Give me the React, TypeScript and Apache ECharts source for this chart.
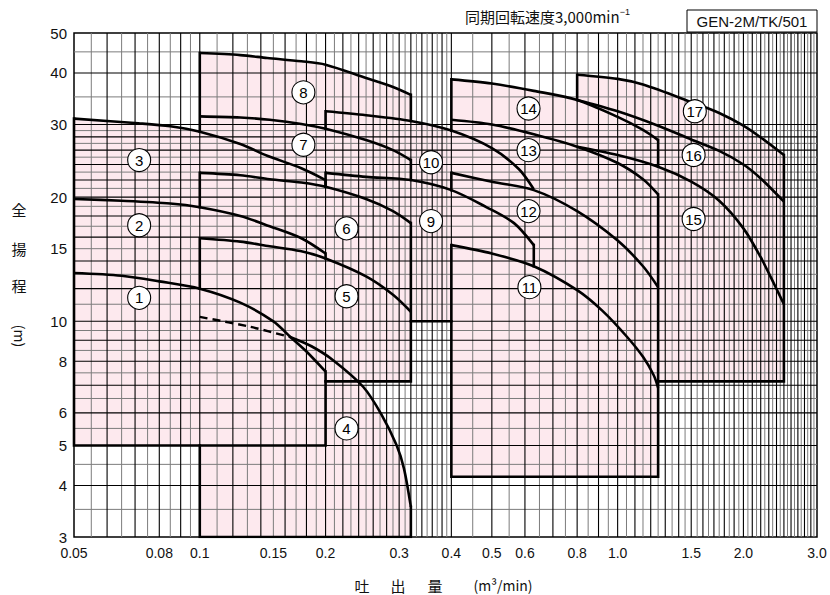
import React, { useEffect, useRef } from "react";
import * as echarts from "echarts";

const X_MIN = 0.05;
const X_MAX = 3.0;
const Y_MIN = 3;
const Y_MAX = 50;

const xTickValues = [0.05, 0.08, 0.1, 0.15, 0.2, 0.3, 0.4, 0.5, 0.6, 0.8, 1.0, 1.5, 2.0, 3.0];
const xTickTexts = ["0.05", "0.08", "0.1", "0.15", "0.2", "0.3", "0.4", "0.5", "0.6", "0.8", "1.0", "1.5", "2.0", "3.0"];
const yTickValues = [3, 4, 5, 6, 8, 10, 15, 20, 30, 40, 50];

// [from, to, step] of the printed log-paper grid
const xGridSteps = [[0.05, 0.1, 0.005], [0.1, 0.4, 0.01], [0.4, 3.0, 0.05]];
const yGridSteps = [[3, 10, 0.5], [10, 30, 1], [30, 50, 5]];

// performance curves [Q (m3/min), H (m)]
const curve1 = [[0.05, 13.1], [0.065, 12.9], [0.08, 12.5], [0.1, 12.0], [0.125, 11.1], [0.15, 10.0], [0.165, 9.15], [0.18, 8.45], [0.2, 7.55]];
const curve2 = [[0.05, 19.8], [0.065, 19.6], [0.085, 19.3], [0.1, 18.9], [0.125, 18.0], [0.147, 17.0], [0.175, 15.9], [0.2, 14.6]];
const curve3 = [[0.05, 31.0], [0.0713, 30.2], [0.085, 29.7], [0.1, 28.8], [0.125, 26.9], [0.145, 25.2], [0.175, 23.5], [0.2, 22.0]];
const curve4Dashed = [[0.1, 10.25], [0.132, 9.7], [0.165, 9.15]];
const curve4 = [[0.165, 9.15], [0.185, 8.7], [0.2085, 8.05], [0.246, 6.94], [0.272, 5.95], [0.296, 5.0], [0.308, 4.4], [0.32, 3.55]];
const curve5 = [[0.1, 15.9], [0.125, 15.6], [0.147, 15.2], [0.174, 14.8], [0.2, 14.2], [0.25, 12.85], [0.29, 11.6], [0.32, 10.55]];
const curve6 = [[0.1, 22.9], [0.125, 22.6], [0.147, 22.1], [0.175, 21.7], [0.2, 21.2], [0.25, 19.8], [0.29, 18.5], [0.32, 17.3]];
const curve7 = [[0.1, 31.4], [0.125, 31.2], [0.147, 30.8], [0.175, 30.1], [0.2, 29.3], [0.25, 27.5], [0.29, 26.0], [0.32, 24.6]];
const curve8 = [[0.1, 44.7], [0.125, 44.2], [0.145, 43.5], [0.175, 42.7], [0.2, 41.9], [0.25, 38.9], [0.29, 37.0], [0.32, 35.4]];
const curve9 = [[0.2, 22.9], [0.25, 22.4], [0.32, 22.0], [0.4, 20.8], [0.486, 18.9], [0.565, 17.3], [0.63, 15.3]];
const curve10 = [[0.2, 32.3], [0.25, 31.6], [0.32, 30.6], [0.4, 29.0], [0.5, 26.3], [0.58, 23.4], [0.63, 20.9]];
const curve11 = [[0.4, 15.3], [0.5, 14.6], [0.63, 13.6], [0.8, 11.9], [0.92, 10.6], [1.05, 9.2], [1.15, 8.2], [1.22, 7.4], [1.25, 6.9]];
const curve12 = [[0.4, 22.9], [0.5, 21.8], [0.63, 20.8], [0.8, 18.5], [1.0, 15.7], [1.15, 13.6], [1.25, 12.1]];
const curve13 = [[0.4, 30.8], [0.5, 30.0], [0.63, 28.4], [0.8, 26.5], [1.0, 24.2], [1.15, 22.1], [1.25, 20.3]];
const curve14 = [[0.4, 38.6], [0.5, 37.7], [0.63, 36.2], [0.8, 34.4], [1.0, 31.3], [1.15, 29.1], [1.25, 27.5]];
const curve15 = [[0.8, 26.5], [1.0, 25.3], [1.25, 23.7], [1.5, 21.8], [1.75, 19.6], [2.0, 16.8], [2.2, 14.3], [2.37, 12.3], [2.5, 11.0]];
const curve16 = [[0.8, 34.4], [1.0, 32.3], [1.25, 29.8], [1.5, 27.6], [1.75, 25.9], [2.0, 24.0], [2.2, 22.2], [2.5, 19.5]];
const curve17 = [[0.8, 39.6], [1.0, 38.7], [1.15, 37.5], [1.5, 34.0], [1.75, 32.0], [2.0, 29.8], [2.2, 27.9], [2.5, 25.3]];

const curves = [curve1, curve2, curve3, curve4, curve5, curve6, curve7, curve8, curve9, curve10, curve11, curve12, curve13, curve14, curve15, curve16, curve17];

// straight boundary segments of the operating ranges
const edgeSegments = [
  [[0.2, 7.55], [0.2, 5], [0.05, 5], [0.05, 31.0]],
  [[0.2, 14.6], [0.2, 14.2]],
  [[0.2, 22.0], [0.2, 21.2]],
  [[0.1, 28.8], [0.1, 44.7]],
  [[0.1, 18.9], [0.1, 22.9]],
  [[0.1, 12.0], [0.1, 15.9]],
  [[0.1, 5], [0.1, 3], [0.32, 3], [0.32, 3.55]],
  [[0.32, 35.4], [0.32, 30.6]],
  [[0.32, 24.6], [0.32, 22.0]],
  [[0.32, 17.3], [0.32, 7.15], [0.2, 7.15]],
  [[0.2, 29.3], [0.2, 32.3]],
  [[0.2, 21.2], [0.2, 22.9]],
  [[0.32, 10], [0.4, 10]],
  [[0.63, 15.3], [0.63, 13.6]],
  [[0.4, 29.0], [0.4, 38.6]],
  [[0.4, 20.8], [0.4, 22.9]],
  [[0.4, 15.3], [0.4, 4.2], [1.25, 4.2], [1.25, 20.3]],
  [[1.25, 27.5], [1.25, 23.7]],
  [[0.8, 34.4], [0.8, 39.6]],
  [[2.5, 25.3], [2.5, 7.15], [1.25, 7.15]],
];

// model number label positions
const labelNames = ["1", "2", "3", "4", "5", "6", "7", "8", "9", "10", "11", "12", "13", "14", "15", "16", "17"];
const labelPoints = [
  [0.0716, 11.4], [0.0716, 17.1], [0.0716, 24.6],
  [0.2245, 5.5], [0.2245, 11.5], [0.2245, 16.8],
  [0.177, 26.8], [0.177, 35.9],
  [0.3576, 17.5], [0.3576, 24.3],
  [0.615, 12.1], [0.612, 18.5], [0.612, 26.0], [0.612, 32.8],
  [1.52, 17.7], [1.52, 25.3], [1.53, 32.3],
];

const rev = (a: number[][]) => a.slice().reverse();

const fillPolygons = [
  [[0.05, 5], [0.2, 5], ...rev(curve3)],
  [[0.1, 3], [0.32, 3], ...rev(curve4), ...rev(curve4Dashed)],
  [[0.1, 7.15], [0.32, 7.15], ...rev(curve8)],
  [[0.2, 10], [0.63, 10], ...rev(curve10)],
  [[0.4, 4.2], [1.25, 4.2], ...rev(curve14)],
  [[0.8, 7.15], [2.5, 7.15], ...rev(curve17)],
];

const PINK = "#fde9ee";
const FONT = "'Liberation Sans', Arial, sans-serif";
const JFONT = "'Noto Sans CJK JP', 'Noto Sans', sans-serif";

function gridValues(steps: number[][], lo: number, hi: number) {
  const list: { v: number; major: boolean }[] = [];
  steps.forEach(([a, b, s], idx) => {
    const n = Math.round((b - a) / s);
    for (let i = 0; i <= n; i++) {
      if (i === 0 && idx > 0) continue;
      const v = Math.round((a + i * s) * 100000) / 100000;
      if (Math.abs(v - lo) < 1e-9 || Math.abs(v - hi) < 1e-9) continue;
      const k = Math.round(v / s);
      list.push({ v, major: i === 0 || i === n || k % 2 === 0 });
    }
  });
  return list;
}

export default function App() {
  const ref = useRef<HTMLDivElement>(null);
  useEffect(() => {
    document.body.style.margin = "0";
    const chart = echarts.init(ref.current!, null, { renderer: "svg" });

    const xg = gridValues(xGridSteps, X_MIN, X_MAX);
    const yg = gridValues(yGridSteps, Y_MIN, Y_MAX);
    const gridLines = [
      ...xg.map((g) => ({ dir: "x", v: g.v, major: g.major })),
      ...yg.map((g) => ({ dir: "y", v: g.v, major: g.major })),
    ].sort((a, b) => Number(a.major) - Number(b.major));

    const lineBase = {
      type: "line",
      symbol: "none",
      silent: true,
      z: 3,
      animation: false,
    };

    const series: any[] = [
      {
        type: "custom",
        coordinateSystem: "cartesian2d",
        silent: true,
        z: 1,
        data: fillPolygons.map((p) => p[0]),
        renderItem: (params: any, api: any) => {
          const pts = fillPolygons[params.dataIndex].map((p) => api.coord(p));
          return { type: "polygon", shape: { points: pts }, style: { fill: PINK } };
        },
      },
      {
        type: "custom",
        coordinateSystem: "cartesian2d",
        silent: true,
        z: 2,
        data: gridLines.map((g) => (g.dir === "x" ? [g.v, Y_MIN] : [X_MIN, g.v])),
        renderItem: (params: any, api: any) => {
          const g = gridLines[params.dataIndex];
          const p1 = g.dir === "x" ? api.coord([g.v, Y_MIN]) : api.coord([X_MIN, g.v]);
          const p2 = g.dir === "x" ? api.coord([g.v, Y_MAX]) : api.coord([X_MAX, g.v]);
          return {
            type: "line",
            shape: { x1: p1[0], y1: p1[1], x2: p2[0], y2: p2[1] },
            style: { stroke: g.major ? "#000" : "#7c7c7c", lineWidth: g.major ? 1.1 : 1 },
          };
        },
      },
      ...curves.map((c) => ({
        ...lineBase,
        data: c,
        smooth: 0.3,
        lineStyle: { color: "#000", width: 2.6, join: "round" },
      })),
      {
        ...lineBase,
        data: curve4Dashed,
        smooth: 0.3,
        lineStyle: { color: "#000", width: 2.4, type: [8, 5] },
      },
      ...edgeSegments.map((s) => ({
        ...lineBase,
        data: s,
        lineStyle: { color: "#000", width: 2.6, join: "miter", cap: "square" },
      })),
      {
        type: "scatter",
        silent: true,
        z: 4,
        symbol: "circle",
        symbolSize: 23,
        itemStyle: { color: "#fff", borderColor: "#000", borderWidth: 1.1, opacity: 1 },
        data: labelPoints.map((p, i) => ({ value: p, name: labelNames[i] })),
        label: {
          show: true,
          position: "inside",
          formatter: (p: any) => p.name,
          color: "#000",
          fontFamily: FONT,
          fontSize: 15,
        },
      },
      {
        type: "custom",
        coordinateSystem: "cartesian2d",
        silent: true,
        clip: false,
        z: 5,
        data: xTickValues.map((v) => [v, Y_MIN]),
        renderItem: (params: any, api: any) => {
          const p = api.coord([xTickValues[params.dataIndex], Y_MIN]);
          return {
            type: "text",
            x: p[0],
            y: p[1] + 16,
            style: {
              text: xTickTexts[params.dataIndex],
              fill: "#111",
              fontSize: 14,
              fontFamily: FONT,
              align: "center",
              verticalAlign: "middle",
            },
          };
        },
      },
      {
        type: "custom",
        coordinateSystem: "cartesian2d",
        silent: true,
        clip: false,
        z: 5,
        data: yTickValues.map((v) => [X_MIN, v]),
        renderItem: (params: any, api: any) => {
          const v = yTickValues[params.dataIndex];
          const p = api.coord([X_MIN, v]);
          return {
            type: "text",
            x: p[0] - 7,
            y: p[1],
            style: {
              text: String(v),
              fill: "#111",
              fontSize: 15,
              fontFamily: FONT,
              align: "right",
              verticalAlign: "middle",
            },
          };
        },
      },
    ];

    const jt = (text: string, x: number, y: number, size = 15) => ({
      type: "text",
      x,
      y,
      style: { text, fill: "#111", fontSize: size, fontFamily: JFONT, align: "center", verticalAlign: "middle" },
    });

    chart.setOption({
      animation: false,
      grid: {
        left: 74,
        right: 13,
        top: 33,
        bottom: 58,
        show: true,
        borderColor: "#000",
        borderWidth: 1.5,
        backgroundColor: "#fff",
      },
      xAxis: {
        type: "log",
        logBase: 10,
        min: X_MIN,
        max: X_MAX,
        axisLabel: { show: false },
        axisTick: { show: false },
        axisLine: { show: false },
        splitLine: { show: false },
      },
      yAxis: {
        type: "log",
        logBase: 10,
        min: Y_MIN,
        max: Y_MAX,
        axisLabel: { show: false },
        axisTick: { show: false },
        axisLine: { show: false },
        splitLine: { show: false },
      },
      series,
      graphic: [
        {
          type: "text",
          x: 465,
          y: 7,
          style: {
            text: "{a|同期回転速度3,000min}{s|−1}",
            fill: "#111",
            rich: {
              a: { fontSize: 15, fontFamily: JFONT, lineHeight: 18, fill: "#111" },
              s: { fontSize: 9, fontFamily: FONT, lineHeight: 10, verticalAlign: "top", fill: "#111" },
            },
          },
        },
        {
          type: "rect",
          shape: { x: 687, y: 10, width: 130, height: 22 },
          style: { fill: "#fff", stroke: "#000", lineWidth: 1 },
        },
        {
          type: "text",
          x: 752,
          y: 21.5,
          style: {
            text: "GEN-2M/TK/501",
            fill: "#111",
            fontSize: 15,
            fontFamily: FONT,
            align: "center",
            verticalAlign: "middle",
          },
        },
        jt("全", 19, 209),
        jt("揚", 19, 248),
        jt("程", 19, 285),
        {
          type: "text",
          x: 20,
          y: 336,
          rotation: -Math.PI / 2,
          style: {
            text: "(m)",
            fill: "#111",
            fontSize: 14,
            fontFamily: JFONT,
            align: "center",
            verticalAlign: "middle",
          },
        },
        jt("吐", 362, 585),
        jt("出", 398, 585),
        jt("量", 435, 585),
        jt("(m³/min)", 503, 585, 14),
      ],
    });
    return () => chart.dispose();
  }, []);
  return <div ref={ref} style={{ width: 830, height: 595 }} />;
}
